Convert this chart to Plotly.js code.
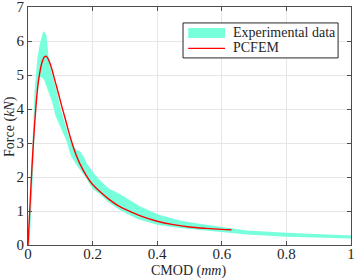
<!DOCTYPE html>
<html>
<head>
<meta charset="utf-8">
<script src="https://cdn.plot.ly/plotly-3.0.1.min.js"></script>
<style>html,body{margin:0;padding:0;background:#fff;}#chart{width:359px;height:278px;}</style>
</head>
<body>
<div id="chart"></div>
<script>
// PCFEM simulation curve
const pcfemX = [0, 0.004, 0.008, 0.012, 0.017, 0.022, 0.027, 0.032, 0.037, 0.043, 0.05, 0.057, 0.065, 0.073, 0.083, 0.093, 0.104, 0.115, 0.13, 0.145, 0.16, 0.18, 0.2, 0.225, 0.25, 0.28, 0.31, 0.35, 0.4, 0.45, 0.5, 0.55, 0.6, 0.63];
const pcfemY = [0, 0.75, 1.5, 2.25, 3.05, 3.75, 4.35, 4.8, 5.1, 5.36, 5.52, 5.55, 5.42, 5.2, 4.85, 4.5, 4.1, 3.72, 3.2, 2.75, 2.4, 2.05, 1.78, 1.55, 1.35, 1.15, 1.01, 0.85, 0.7, 0.6, 0.53, 0.49, 0.46, 0.45];

// Experimental envelope: outer edge (rising left side, peak, descending upper side)
const expOuterX = [0, 0.005, 0.01, 0.013, 0.016, 0.018, 0.02, 0.024, 0.029, 0.036, 0.042, 0.047, 0.052, 0.057, 0.063, 0.07, 0.081, 0.091, 0.1, 0.108, 0.117, 0.128, 0.138, 0.15, 0.162, 0.172, 0.182, 0.197, 0.22, 0.25, 0.284, 0.326, 0.346, 0.403, 0.47, 0.52, 0.563, 0.6, 0.625, 0.677, 0.8, 0.9, 1.0];
const expOuterY = [0, 1.0, 2.0, 2.6, 3.3, 3.9, 4.5, 5.0, 5.49, 5.88, 6.15, 6.29, 6.25, 6.17, 5.59, 5.2, 4.8, 4.45, 4.05, 3.75, 3.5, 3.15, 2.95, 2.8, 2.75, 2.6, 2.4, 2.2, 1.93, 1.66, 1.5, 1.26, 1.14, 0.9, 0.72, 0.64, 0.58, 0.54, 0.5, 0.43, 0.36, 0.33, 0.28];
// Experimental envelope: inner edge (descending lower side, rising right side)
const expInnerX = [1.0, 0.9, 0.8, 0.677, 0.625, 0.563, 0.47, 0.403, 0.346, 0.326, 0.3, 0.284, 0.25, 0.222, 0.2, 0.176, 0.15, 0.133, 0.118, 0.1, 0.085, 0.075, 0.062, 0.05, 0.04, 0.033, 0.026, 0.022, 0.019, 0.016, 0.012, 0.008, 0.005];
const expInnerY = [0.19, 0.21, 0.24, 0.31, 0.36, 0.4, 0.5, 0.59, 0.74, 0.82, 0.96, 1.03, 1.25, 1.5, 1.65, 2.02, 2.35, 2.62, 3.09, 3.5, 3.8, 4.2, 4.55, 4.85, 4.95, 4.85, 4.5, 3.8, 3.0, 2.2, 1.2, 0.4, 0];

const xTicks = [0, 0.2, 0.4, 0.6, 0.8, 1];
const xTickText = ['0', '0.2', '0.4', '0.6', '0.8', '1'];
const yTicks = [0, 1, 2, 3, 4, 5, 6, 7];
const seriesNames = ['Experimental data', 'PCFEM'];
const bandColor = '#78FFDC';
const lineColor = '#FF0000';
const textColor = '#262626';
const fontFam = 'Liberation Serif';

const bandX = expOuterX.concat(expInnerX);
const bandY = expOuterY.concat(expInnerY);

const traces = [
  {
    x: bandX, y: bandY, type: 'scatter', mode: 'lines',
    fill: 'toself', fillcolor: bandColor,
    line: {width: 0, color: bandColor},
    name: seriesNames[0], hoverinfo: 'skip'
  },
  {
    x: pcfemX, y: pcfemY, type: 'scatter', mode: 'lines',
    line: {color: lineColor, width: 1.4, shape: 'spline', smoothing: 0.8},
    name: seriesNames[1]
  }
];

const axisCommon = {
  automargin: false,
  ticklabeloverflow: 'allow',
  showgrid: true, gridcolor: '#E6E6E6', gridwidth: 1,
  zeroline: false, showline: true, linecolor: '#4d4d4d', linewidth: 1,
  mirror: 'ticks', ticks: 'inside', ticklen: 4, tickcolor: '#4d4d4d',
  tickfont: {family: fontFam, size: 15, color: textColor}
};

// manual legend (box, swatches, labels) in paper coordinates
const shapes = [
  {type: 'rect', xref: 'paper', yref: 'paper', x0: 0.480, x1: 0.960, y0: 0.786, y1: 0.933,
   line: {color: textColor, width: 1}, fillcolor: '#fff', layer: 'above'},
  {type: 'rect', xref: 'paper', yref: 'paper', x0: 0.496, x1: 0.610, y0: 0.870, y1: 0.912,
   line: {width: 0}, fillcolor: bandColor, layer: 'above'},
  {type: 'line', xref: 'paper', yref: 'paper', x0: 0.496, x1: 0.610, y0: 0.826, y1: 0.826,
   line: {color: lineColor, width: 1.4}, layer: 'above'}
];

const annotations = [
  {text: seriesNames[0], xref: 'paper', yref: 'paper', x: 0.628, y: 0.893, xanchor: 'left', yanchor: 'middle',
   showarrow: false, font: {family: fontFam, size: 14, color: textColor}},
  {text: seriesNames[1], xref: 'paper', yref: 'paper', x: 0.628, y: 0.830, xanchor: 'left', yanchor: 'middle',
   showarrow: false, font: {family: fontFam, size: 14, color: textColor}},
  {text: 'CMOD (<i>mm</i>)', xref: 'paper', yref: 'paper', x: 0.498, y: -0.11, xanchor: 'center', yanchor: 'middle',
   showarrow: false, font: {family: fontFam, size: 14, color: textColor}},
  {text: 'Force (<i>kN</i>)', xref: 'paper', yref: 'paper', x: -0.056, y: 0.50, xanchor: 'center', yanchor: 'middle',
   textangle: -90, showarrow: false, font: {family: fontFam, size: 14, color: textColor}}
];

const layout = {
  width: 359, height: 278,
  margin: {l: 28, r: 8, t: 7, b: 33},
  paper_bgcolor: '#fff', plot_bgcolor: '#fff',
  font: {family: fontFam, size: 14, color: textColor},
  showlegend: false,
  shapes: shapes,
  annotations: annotations,
  xaxis: Object.assign({}, axisCommon, {range: [0, 1], tickvals: xTicks, ticktext: xTickText, ticklabelstandoff: -5}),
  yaxis: Object.assign({}, axisCommon, {range: [0, 7], tickvals: yTicks})
};

Plotly.newPlot('chart', traces, layout, {displayModeBar: false, staticPlot: true});
</script>
</body>
</html>
